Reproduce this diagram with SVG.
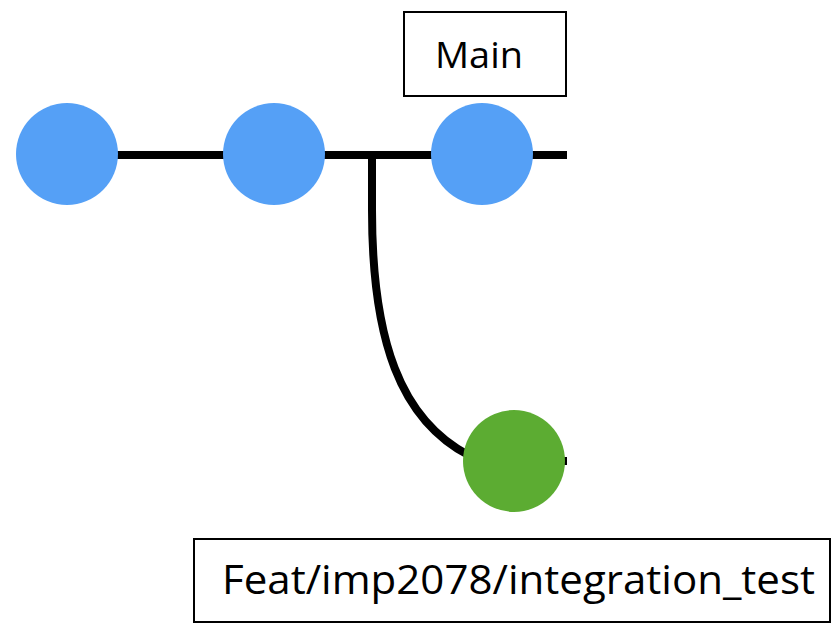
<svg xmlns="http://www.w3.org/2000/svg" width="840" height="632" viewBox="0 0 840 632">
<style>
.line{fill:none;stroke:#000;stroke-width:8}
.main{fill:#55A0F6}
.feat{fill:#5CAC32}
.box{fill:#fff;stroke:#000;stroke-width:2}
.lbl{font-family:"Open Sans","Noto Sans",sans-serif;fill:#000}
</style>
<rect width="840" height="632" fill="#fff"/>
<g id="connectors">
<line class="line" x1="67" y1="155" x2="567" y2="155"/>
<path class="line" d="M372,155 L372,210 C372,340 400,420 470,456"/>
<line class="line" x1="514" y1="461" x2="567" y2="461"/>
</g>
<g id="c1"><circle class="main" cx="67" cy="154" r="51"/></g>
<g id="c2"><circle class="main" cx="274" cy="154" r="51"/></g>
<g id="c3"><circle class="main" cx="482" cy="154" r="51"/></g>
<g id="c4"><circle class="feat" cx="514" cy="461" r="51"/></g>
<g id="main-label">
<rect class="box" x="404" y="12" width="162" height="84"/>
<text class="lbl" x="435" y="68" font-size="37" textLength="88" lengthAdjust="spacingAndGlyphs">Main</text>
</g>
<g id="feat-label">
<rect class="box" x="194" y="539" width="636" height="83"/>
<text class="lbl" x="222" y="594" font-size="40" textLength="593" lengthAdjust="spacingAndGlyphs">Feat/imp2078/integration_test</text>
</g>
</svg>
